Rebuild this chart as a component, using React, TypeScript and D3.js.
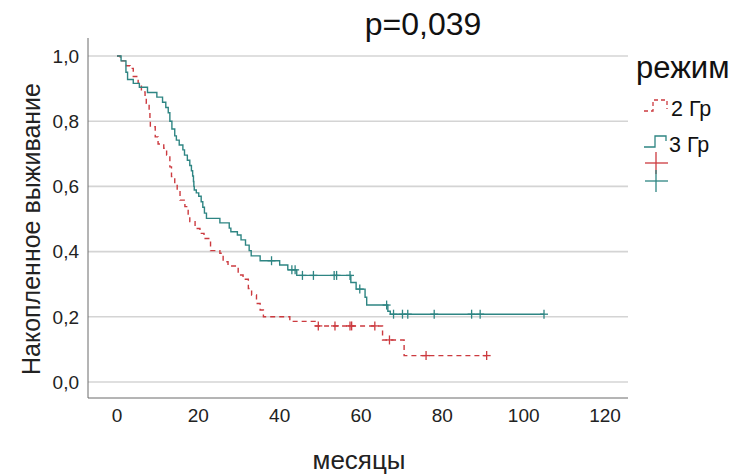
import React from 'react';
import * as d3 from 'd3';

// Kaplan-Meier steps: [month, cumulative survival after the event]
const group2Steps: [number, number][] = [
  [0, 1.0], [0.8, 0.985], [2.3, 0.97], [3.2, 0.962], [4.0, 0.937], [5.2, 0.916], [6.0, 0.89],
  [6.9, 0.875], [7.2, 0.855], [7.9, 0.825], [8.1, 0.8], [8.2, 0.783], [9.4, 0.752], [10.1, 0.73],
  [11.5, 0.717], [12.2, 0.696], [13.0, 0.66], [13.4, 0.63], [14.2, 0.609], [14.8, 0.584],
  [15.5, 0.558], [16.7, 0.538], [17.5, 0.512], [17.9, 0.492], [19.2, 0.471], [20.4, 0.456],
  [21.4, 0.44], [23.0, 0.403], [25.3, 0.395], [26.1, 0.369], [27.3, 0.356], [29.8, 0.328],
  [31.0, 0.315], [32.3, 0.287], [33.1, 0.267], [34.3, 0.241], [35.2, 0.221], [36.0, 0.2],
  [42.5, 0.186], [48.7, 0.172], [65.3, 0.129], [70.6, 0.081],
];
const group2End = 90.9;
const group2Censored = [49.5, 53.6, 57.3, 57.7, 63.4, 67, 76, 90.9];

const group3Steps: [number, number][] = [
  [0, 1.0], [1.0, 0.985], [2.2, 0.95], [2.6, 0.928], [4.0, 0.916], [5.5, 0.904], [7.5, 0.888],
  [9.8, 0.874], [11.2, 0.858], [12.0, 0.842], [12.6, 0.826], [13.0, 0.8], [13.5, 0.776],
  [14.2, 0.755], [14.6, 0.742], [15.3, 0.727], [16.2, 0.712], [16.6, 0.696], [17.3, 0.68],
  [17.9, 0.664], [18.3, 0.648], [18.6, 0.632], [18.8, 0.615], [18.9, 0.6], [19.0, 0.589],
  [19.5, 0.58], [20.1, 0.57], [20.7, 0.553], [21.1, 0.536], [21.5, 0.518], [22.0, 0.502],
  [25.3, 0.488], [27.6, 0.472], [28.0, 0.461], [29.6, 0.451], [30.5, 0.436], [31.6, 0.42],
  [32.5, 0.403], [33.0, 0.387], [35.2, 0.372], [40.0, 0.359], [42.0, 0.344], [44.2, 0.327],
  [57.5, 0.305], [58.8, 0.285], [61.0, 0.26], [61.4, 0.236], [66.6, 0.217], [67.2, 0.208],
];
const group3End = 105;
const group3Censored = [38, 43, 43.8, 45.6, 48.3, 53.4, 54, 57.3, 59.7, 66.3, 68, 70.2, 71.5, 78, 87.2, 89.3, 105];

const xTicks = [0, 20, 40, 60, 80, 100, 120];
const yTicks = [0, 0.2, 0.4, 0.6, 0.8, 1.0];

const RED = '#cc3a3f';
const TEAL = '#2e8583';
const FONT = '"Liberation Sans", Arial, sans-serif';

// survival value at a given time (for censor marks)
const survAt = (steps: [number, number][], t: number) => {
  let s = steps[0][1];
  for (const [tt, v] of steps) if (tt <= t) s = v;
  return s;
};

const App = () => {
  const width = 735, height = 476;
  const frame = { left: 88, right: 628, top: 38, bottom: 398 };

  const x = d3.scaleLinear().domain([0, 120]).range([117, 605]);
  const y = d3.scaleLinear().domain([0, 1]).range([382, 56]);

  const line = d3.line<[number, number]>()
    .x(d => x(d[0]))
    .y(d => y(d[1]))
    .curve(d3.curveStepAfter);

  const withEnd = (steps: [number, number][], end: number): [number, number][] =>
    [...steps, [end, steps[steps.length - 1][1]]];

  const fmt = (v: number) => v.toFixed(1).replace('.', ',');

  const censorMarks = (times: number[], steps: [number, number][], color: string) =>
    times.map((t, i) => {
      const cx = x(t), cy = y(survAt(steps, t));
      return (
        <g key={i} stroke={color} strokeWidth={1.3}>
          <line x1={cx - 4} x2={cx + 4} y1={cy} y2={cy} />
          <line x1={cx} x2={cx} y1={cy - 4.5} y2={cy + 4.5} />
        </g>
      );
    });

  return (
    <svg width={width} height={height} style={{ position: 'absolute', left: 0, top: 0 }}>
      <rect width={width} height={height} fill="#fff" />
      {/* gridlines */}
      {yTicks.map(t => (
        <line key={t} x1={frame.left} x2={frame.right} y1={y(t)} y2={y(t)} stroke="#d4d4d4" strokeWidth={1.6} />
      ))}
      {/* axes */}
      <line x1={frame.left} x2={frame.left} y1={frame.top} y2={frame.bottom} stroke="#6b6b6b" strokeWidth={1} />
      <line x1={frame.left} x2={frame.right} y1={frame.bottom} y2={frame.bottom} stroke="#6b6b6b" strokeWidth={1} />
      {yTicks.map(t => (
        <text key={t} x={frame.left - 9} y={y(t)} dy="0.36em" textAnchor="end"
          fontFamily={FONT} fontSize={19} fill="#222">{fmt(t)}</text>
      ))}
      {xTicks.map(t => (
        <text key={t} x={x(t)} y={422} textAnchor="middle" fontFamily={FONT} fontSize={19} fill="#222">{t}</text>
      ))}
      <text x={359} y={469} textAnchor="middle" fontFamily={FONT} fontSize={26} fill="#222">месяцы</text>
      <text transform="translate(40,229) rotate(-90)" textAnchor="middle" fontFamily={FONT} fontSize={25} fill="#222">
        Накопленное выживание
      </text>
      <text x={423} y={35} textAnchor="middle" fontFamily={FONT} fontSize={32} fill="#111">p=0,039</text>

      {/* curves */}
      <path d={line(withEnd(group2Steps, group2End)) ?? ''} fill="none" stroke={RED} strokeWidth={1.4} strokeDasharray="5,4" />
      <path d={line(withEnd(group3Steps, group3End)) ?? ''} fill="none" stroke={TEAL} strokeWidth={1.4} />
      {censorMarks(group2Censored, group2Steps, RED)}
      {censorMarks(group3Censored, group3Steps, TEAL)}

      {/* legend */}
      <text x={636} y={78} fontFamily={FONT} fontSize={31} fill="#111">режим</text>
      <path d="M644,111 H653 V100 H667 V109" fill="none" stroke={RED} strokeWidth={1.3} strokeDasharray="4,3" />
      <text x={671} y={116} fontFamily={FONT} fontSize={21.5} fill="#111">2 Гр</text>
      <path d="M644,147 H655 V136 H666 V141" fill="none" stroke={TEAL} strokeWidth={1.3} />
      <text x={669} y={152} fontFamily={FONT} fontSize={21.5} fill="#111">3 Гр</text>
      <g stroke={RED} strokeWidth={1.3}>
        <line x1={645} x2={668} y1={163} y2={163} />
        <line x1={656} x2={656} y1={152} y2={174} />
      </g>
      <g stroke={TEAL} strokeWidth={1.3}>
        <line x1={645} x2={668} y1={181} y2={181} />
        <line x1={656} x2={656} y1={170} y2={192} />
      </g>
    </svg>
  );
};

export default App;
